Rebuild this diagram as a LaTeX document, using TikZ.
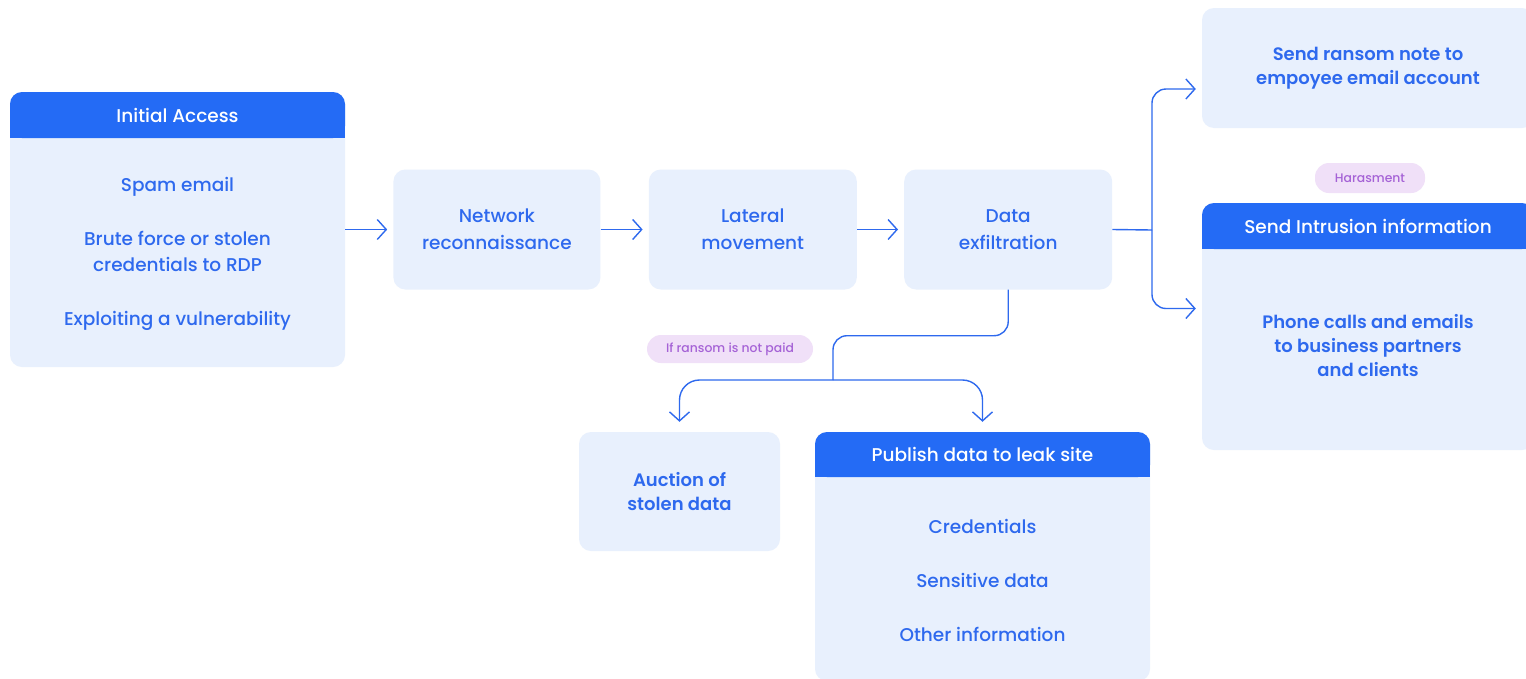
\documentclass[tikz,border=0pt]{standalone}
\usepackage{fontspec}
\setmainfont{Poppins}[UprightFont=* Medium,BoldFont=* SemiBold]
\usetikzlibrary{arrows.meta,positioning}
\definecolor{mainblue}{HTML}{246BF5}
\definecolor{boxfill}{HTML}{E8F0FD}
\definecolor{textblue}{HTML}{2E69EE}
\definecolor{pillfill}{HTML}{F0E0F8}
\definecolor{pilltext}{HTML}{A562D6}
\tikzset{
card/.style={fill=boxfill,rounded corners=12pt,inner sep=0pt},
block/.style={card,align=center,text=textblue,font=\fontsize{18.5}{27}\selectfont},
head/.style={fill=mainblue,rounded corners=12pt,text=white,anchor=north,minimum height=46pt,inner sep=0pt,font=\fontsize{18.5}{20}\selectfont},
items/.style={align=center,text=textblue,font=\fontsize{18.5}{26}\selectfont},
strong/.style={font=\fontsize{18}{24}\selectfont\bfseries},
pill/.style={fill=pillfill,text=pilltext,rounded corners=14pt,inner sep=0pt,font=\fontsize{12.4}{14}\selectfont},
arrow/.style={-{Straight Barb[length=9pt,width=20pt]},draw=textblue,line width=1.4pt},
link/.style={draw=textblue,line width=1.4pt}
}
\begin{document}
\begin{tikzpicture}[x=1pt,y=-1pt]
\fill[white] (0,0) rectangle (1526,678);
\useasboundingbox (0,0) rectangle (1526,678);

% first stage
\node[card,minimum width=335pt,minimum height=275pt] (access) at (177.5,229.5) {};
\fill[mainblue] ([yshift=-20pt]access.north west) rectangle ([yshift=-46pt]access.north east);
\node[head,minimum width=335pt] (access-head) at (access.north) {Initial Access};
\node[items] (access-list) at (177.5,254) {Spam email\\[28pt]Brute force or stolen\\credentials to RDP\\[28pt]Exploiting a vulnerability};

% main chain
\node[block,minimum width=207pt,minimum height=120pt,right=48pt of access] (recon) {Network\\reconnaissance};
\node[block,minimum width=208pt,minimum height=120pt,right=48pt of recon] (lateral) {Lateral\\movement};
\node[block,minimum width=208pt,minimum height=120pt,right=47pt of lateral] (exfil) {Data\\exfiltration};

% right branch
\node[block,strong,minimum width=332pt,minimum height=120pt] (ransom) at (1368,68) {Send ransom note to\\empoyee email account};
\node[pill,minimum width=110pt,minimum height=30pt] (harass) at (1370,178) {Harasment};
\node[card,minimum width=332pt,minimum height=247pt] (intrusion) at (1368,326.5) {};
\fill[mainblue] ([yshift=-20pt]intrusion.north west) rectangle ([yshift=-46pt]intrusion.north east);
\node[head,minimum width=332pt] (intrusion-head) at (intrusion.north) {Send Intrusion information};
\node[items,strong] (intrusion-list) at (1368,346) {Phone calls and emails\\to business partners\\and clients};

% lower branch
\node[pill,minimum width=166pt,minimum height=28pt] (unpaid) at (730,349) {If ransom is not paid};
\node[block,strong,minimum width=201pt,minimum height=119pt] (auction) at (679.5,491.5) {Auction of\\stolen data};
\node[card,minimum width=335pt,minimum height=249pt] (publish) at (982.5,556.5) {};
\fill[mainblue] ([yshift=-20pt]publish.north west) rectangle ([yshift=-45pt]publish.north east);
\node[head,minimum height=45pt,minimum width=335pt] (publish-head) at (publish.north) {Publish data to leak site};
\node[items] (publish-list) at (982.5,580) {Credentials\\[28pt]Sensitive data\\[28pt]Other information};

% connectors
\draw[arrow,shorten >=6pt] (access.east) -- (recon.west);
\draw[arrow,shorten >=6pt] (recon.east) -- (lateral.west);
\draw[arrow,shorten >=6pt] (lateral.east) -- (exfil.west);

\coordinate (split) at (1152,230);
\draw[link] (exfil.east) -- (split);
\draw[arrow,rounded corners=14pt,shorten >=6pt] (split) |- ([yshift=-21pt]ransom.west);
\draw[arrow,rounded corners=14pt,shorten >=6pt] (split) |- ([yshift=18pt]intrusion.west);

\coordinate (drop) at (833,380);
\draw[link,rounded corners=14pt] (exfil.south) -- ++(0,46) -| (drop);
\draw[arrow,rounded corners=20pt,shorten >=10pt] (drop) -| (auction.north);
\draw[arrow,rounded corners=20pt,shorten >=10pt] (drop) -| (publish.north);
\end{tikzpicture}
\end{document}
